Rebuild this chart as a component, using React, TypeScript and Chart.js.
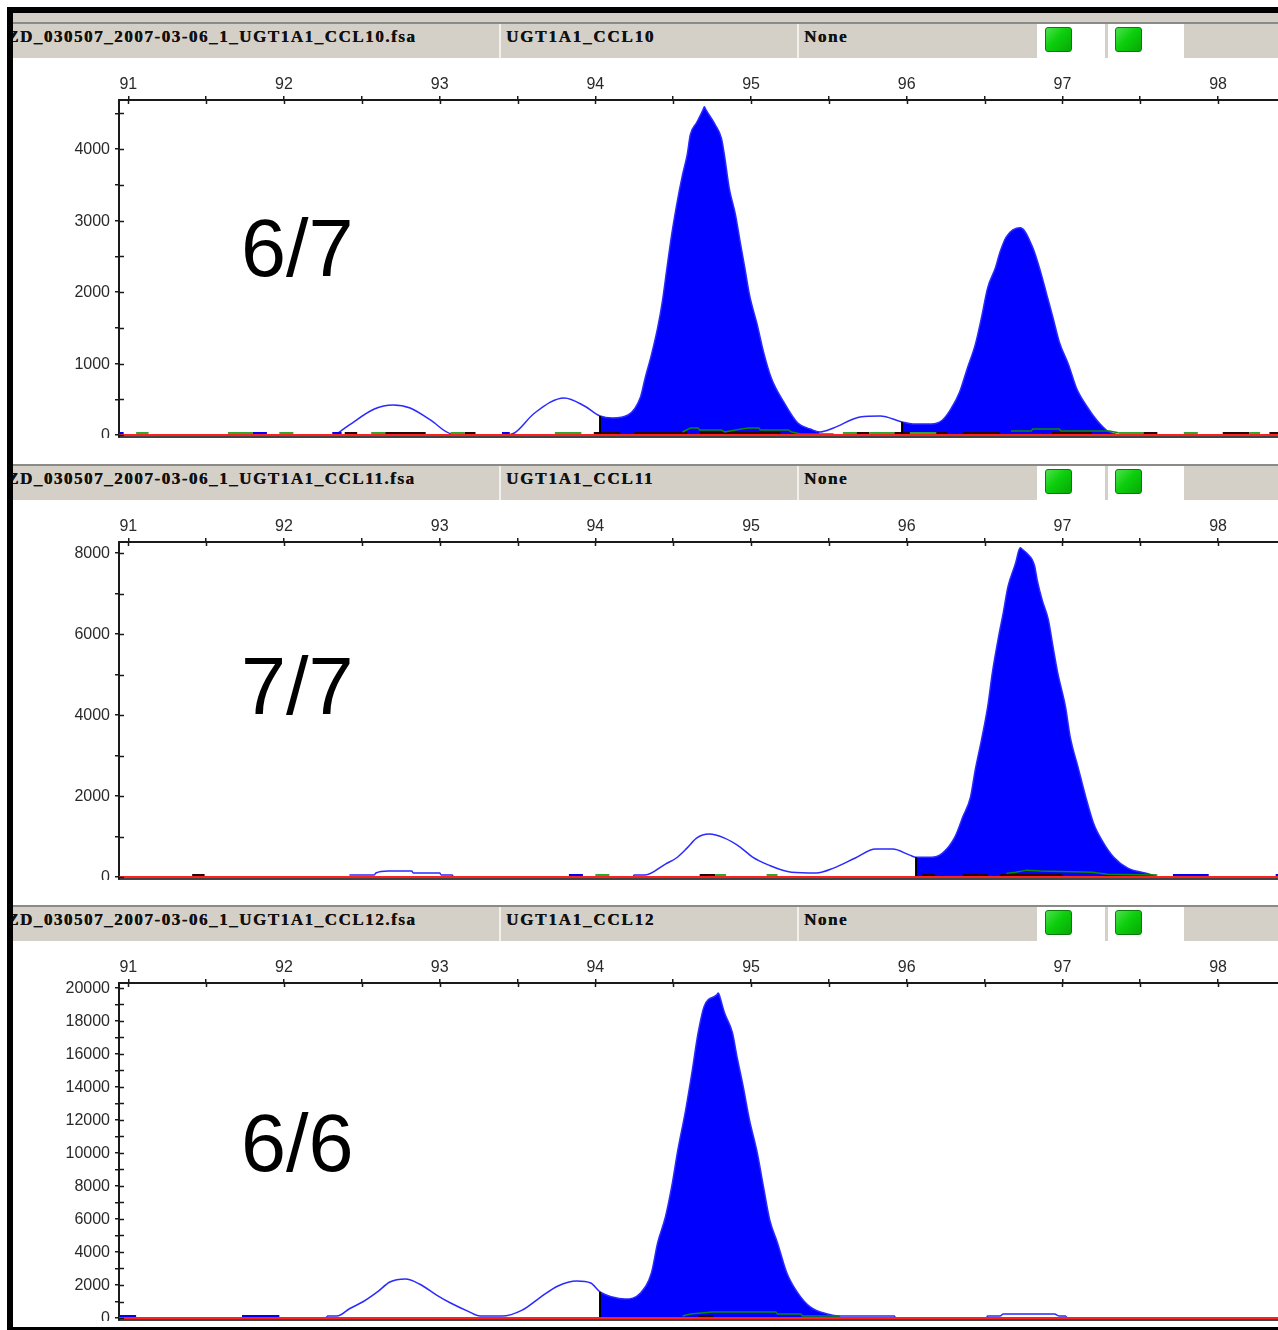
import React, { useEffect, useRef } from "react";
import { Chart, registerables } from "chart.js";

Chart.register(...registerables);

const sizeTicks = [91, 91.5, 92, 92.5, 93, 93.5, 94, 94.5, 95, 95.5, 96, 96.5, 97, 97.5, 98];
const sizeMin = 90.94;
const sizeMax = 98.385;

type Seg = [number, number];

// ---------- Panel 1: 6/7 ----------
const p1Ticks = [0, 500, 1000, 1500, 2000, 2500, 3000, 3500, 4000, 4500];
const p1Labels = [0, 1000, 2000, 3000, 4000];
const p1Range = [-28, 4686];
const p1X = [92.33, 92.42, 92.58, 92.70, 92.81, 92.94, 93.08, 93.42, 93.48, 93.61, 93.80, 93.93, 94.03, 94.11, 94.21, 94.29, 94.32, 94.36, 94.40, 94.43, 94.46, 94.49, 94.52, 94.56, 94.59, 94.61, 94.65, 94.69, 94.70, 94.71, 94.77, 94.81, 94.83, 94.86, 94.90, 94.93, 94.96, 94.99, 95.04, 95.08, 95.13, 95.21, 95.30, 95.38, 95.44, 95.53, 95.70, 95.83, 95.97, 96.04, 96.16, 96.23, 96.28, 96.34, 96.39, 96.44, 96.48, 96.52, 96.57, 96.60, 96.64, 96.73, 96.81, 96.86, 96.90, 96.94, 96.98, 97.04, 97.09, 97.16, 97.22, 97.29, 97.36];
const p1Y = [0, 140, 364, 420, 378, 210, 14, 0, 28, 308, 518, 406, 266, 238, 280, 532, 798, 1120, 1498, 1862, 2338, 2800, 3192, 3640, 3920, 4200, 4368, 4540, 4592, 4550, 4340, 4150, 3900, 3450, 3080, 2702, 2338, 1960, 1540, 1162, 798, 462, 168, 84, 42, 98, 252, 266, 182, 154, 154, 210, 350, 602, 938, 1260, 1638, 2058, 2338, 2562, 2772, 2898, 2618, 2282, 1960, 1638, 1302, 980, 658, 392, 210, 56, 0];
const p1Fill: Seg[] = [[94.03, 95.44], [95.97, 97.36]];
const p1Level = 28;
const p1Blue: Seg[] = [[90.94, 90.97], [91.80, 91.89], [92.31, 92.37], [93.40, 93.45]];
const p1Green: Seg[] = [[91.05, 91.13], [91.64, 91.80], [91.97, 92.06], [92.56, 92.65], [93.07, 93.16], [93.74, 93.91], [95.59, 95.68], [95.76, 95.92], [96.02, 96.19], [97.36, 97.52], [97.78, 97.87], [98.20, 98.27]];
const p1Black: Seg[] = [[92.39, 92.47], [92.65, 92.91], [93.16, 93.23], [93.99, 94.16], [94.25, 94.59], [94.67, 95.19], [95.67, 95.76], [95.92, 96.02], [96.19, 96.26], [96.36, 96.60], [96.93, 97.19], [97.52, 97.61], [98.03, 98.20], [98.33, 98.385]];
const p1LowX = [94.56, 94.61, 94.66, 94.67, 94.81, 94.83, 94.90, 94.98, 95.05, 95.06, 95.24, 95.26, 95.32, 95.53, null, 96.67, 96.80, 96.81, 96.98, 96.99, 97.30, 97.36];
const p1LowY = [42, 98, 98, 70, 70, 42, 70, 98, 98, 70, 70, 42, 14, 14, null, 56, 56, 84, 84, 56, 56, 30];

// ---------- Panel 2: 7/7 ----------
const p2Ticks = [0, 1000, 2000, 3000, 4000, 5000, 6000, 7000, 8000];
const p2Labels = [0, 2000, 4000, 6000, 8000];
const p2Range = [-49, 8272];
const p2X = [92.42, 92.58, 92.59, 92.67, 92.82, 92.83, 93.00, 93.01, 93.08, 93.09, 94.24, 94.25, 94.32, 94.45, 94.52, 94.59, 94.65, 94.73, 94.83, 94.93, 95.01, 95.11, 95.26, 95.42, 95.53, 95.67, 95.80, 95.91, 96.02, 96.06, 96.16, 96.23, 96.31, 96.36, 96.41, 96.44, 96.48, 96.52, 96.55, 96.59, 96.62, 96.65, 96.70, 96.72, 96.73, 96.74, 96.77, 96.82, 96.84, 96.87, 96.91, 96.94, 96.97, 97.02, 97.05, 97.10, 97.15, 97.20, 97.26, 97.33, 97.42, 97.53, 97.60];
const p2Y = [50, 50, 100, 150, 150, 100, 100, 50, 50, 0, 0, 50, 50, 320, 470, 720, 960, 1060, 960, 740, 490, 300, 120, 100, 220, 470, 690, 690, 540, 490, 490, 590, 990, 1480, 1980, 2640, 3380, 4200, 5040, 5930, 6520, 7160, 7760, 8060, 8130, 8100, 8000, 7700, 7300, 6840, 6350, 5680, 5040, 4200, 3460, 2720, 1980, 1330, 870, 490, 220, 100, 30];
const p2Fill: Seg[] = [[96.06, 97.60]];
const p2Level = 50;
const p2Blue: Seg[] = [[93.83, 93.92], [97.71, 97.94], [98.37, 98.385]];
const p2Green: Seg[] = [[94.00, 94.09], [94.77, 94.84], [95.10, 95.17]];
const p2Black: Seg[] = [[91.41, 91.49], [94.67, 94.77], [96.10, 96.18], [96.36, 96.52], [96.60, 97.00]];
const p2LowX = [96.64, 96.70, 96.77, 96.86, 97.19, 97.29, 97.61];
const p2LowY = [90, 120, 170, 150, 120, 70, 50];

// ---------- Panel 3: 6/6 ----------
const p3Ticks = [0, 1000, 2000, 3000, 4000, 5000, 6000, 7000, 8000, 9000, 10000, 11000, 12000, 13000, 14000, 15000, 16000, 17000, 18000, 19000, 20000];
const p3Labels = [0, 2000, 4000, 6000, 8000, 10000, 12000, 14000, 16000, 18000, 20000];
const p3Range = [-121, 20300];
const p3X = [92.27, 92.28, 92.34, 92.42, 92.51, 92.60, 92.68, 92.78, 92.87, 92.98, 93.07, 93.18, 93.26, 93.40, 93.53, 93.64, 93.76, 93.88, 93.97, 94.03, 94.11, 94.19, 94.29, 94.36, 94.40, 94.45, 94.49, 94.53, 94.58, 94.62, 94.66, 94.70, 94.78, 94.79, 94.80, 94.83, 94.88, 94.91, 94.95, 94.99, 95.04, 95.08, 95.12, 95.17, 95.23, 95.30, 95.38, 95.49, 95.57, 95.92, 95.93, 96.51, 96.52, 96.60, 96.62, 96.95, 96.98, 97.02, 97.03];
const p3Y = [0, 120, 120, 560, 1000, 1580, 2180, 2360, 2060, 1390, 910, 420, 120, 120, 480, 1210, 1940, 2240, 2120, 1580, 1270, 1150, 1520, 2730, 4550, 6120, 7940, 10180, 12600, 14850, 17270, 18910, 19580, 19700, 19450, 18480, 17300, 15820, 14000, 12000, 10000, 7940, 5940, 4550, 2730, 1520, 670, 240, 120, 120, 0, 0, 120, 120, 240, 240, 120, 120, 0];
const p3Fill: Seg[] = [[94.03, 95.57]];
const p3Level = 120;
const p3Blue: Seg[] = [[90.94, 91.05], [91.73, 91.97]];
const p3Green: Seg[] = [];
const p3Black: Seg[] = [[94.66, 94.76]];
const p3LowX = [94.56, 94.61, 94.75, 95.16, 95.17, 95.32, 95.33, 95.57];
const p3LowY = [120, 240, 360, 360, 240, 240, 120, 120];

const panels = [
  { top: 22, file: "ZD_030507_2007-03-06_1_UGT1A1_CCL10.fsa", sample: "UGT1A1_CCL10", note: "None", big: "6/7", bigTop: 202, x: p1X, y: p1Y, fill: p1Fill, range: p1Range, ticks: p1Ticks, labels: p1Labels, level: p1Level, blue: p1Blue, green: p1Green, black: p1Black, lowX: p1LowX, lowY: p1LowY },
  { top: 464, file: "ZD_030507_2007-03-06_1_UGT1A1_CCL11.fsa", sample: "UGT1A1_CCL11", note: "None", big: "7/7", bigTop: 640, x: p2X, y: p2Y, fill: p2Fill, range: p2Range, ticks: p2Ticks, labels: p2Labels, level: p2Level, blue: p2Blue, green: p2Green, black: p2Black, lowX: p2LowX, lowY: p2LowY },
  { top: 905, file: "ZD_030507_2007-03-06_1_UGT1A1_CCL12.fsa", sample: "UGT1A1_CCL12", note: "None", big: "6/6", bigTop: 1097, x: p3X, y: p3Y, fill: p3Fill, range: p3Range, ticks: p3Ticks, labels: p3Labels, level: p3Level, blue: p3Blue, green: p3Green, black: p3Black, lowX: p3LowX, lowY: p3LowY },
];

type PanelData = (typeof panels)[number];

const BLUE = "#0000ff";
const OUTLINE = "#2a2aff";
const GREEN = "#0a8a0a";
const LIGHT_GREEN = "#2fa82f";
const DARK = "#2a0505";
const RED = "#ff2020";
const AXIS = "#1a1a1a";
const LABEL = "#2a2a2a";
const HEADER = "#d4d0c8";
const SANS = "'Liberation Sans', Arial, sans-serif";

const zip = (xs: (number | null)[], ys: (number | null)[]) =>
  xs.map((x, i) => ({ x: x === null ? NaN : x, y: ys[i] }));

const segments = (segs: Seg[], level: number) =>
  segs.flatMap(([a, b]) => [{ x: a, y: level }, { x: b, y: level }, { x: b, y: null }]);

const within = (p: PanelData, [a, b]: Seg) =>
  zip(p.x, p.y).filter((d) => d.x >= a && d.x <= b);

const crossTicks = {
  id: "crossTicks",
  afterDatasetsDraw(chart: any) {
    const { ctx, chartArea, scales } = chart;
    ctx.save();
    ctx.strokeStyle = AXIS;
    ctx.lineWidth = 1.5;
    ctx.beginPath();
    scales.x.ticks.forEach((t: any) => {
      const px = Math.round(scales.x.getPixelForValue(t.value)) + 0.5;
      ctx.moveTo(px, chartArea.top);
      ctx.lineTo(px, chartArea.top + 4);
    });
    scales.y.ticks.forEach((t: any) => {
      const py = Math.round(scales.y.getPixelForValue(t.value)) + 0.5;
      ctx.moveTo(chartArea.left, py);
      ctx.lineTo(chartArea.left + 5, py);
    });
    ctx.stroke();
    ctx.restore();
  },
};

function Trace({ p }: { p: PanelData }) {
  const ref = useRef<HTMLCanvasElement>(null);
  useEffect(() => {
    if (!ref.current) return;
    const line = (label: string, data: any[], color: string, width: number, order: number, extra: any = {}) => ({
      label, data, borderColor: color, backgroundColor: color, borderWidth: width, order,
      pointRadius: 0, tension: 0, fill: false, spanGaps: false, ...extra,
    });
    const starts = p.fill.map(([a]) => {
      const i = p.x.indexOf(a);
      return line("start", [{ x: a, y: 0 }, { x: a, y: p.y[i] }], "#000000", 2, 3);
    });
    const smooth = { cubicInterpolationMode: "monotone" };
    const chart = new Chart(ref.current, {
      type: "line",
      data: {
        datasets: [
          ...p.fill.map((r) => line("peak", within(p, r), BLUE, 0, 7, { fill: "origin", backgroundColor: BLUE, ...smooth })),
          line("trace", zip(p.x, p.y), OUTLINE, 1.5, 6, smooth),
          ...starts,
          line("black", segments(p.black, p.level), DARK, 2, 5),
          line("blue", segments(p.blue, p.level), BLUE, 2, 4),
          line("green", segments(p.green, p.level), LIGHT_GREEN, 2, 4),
          line("low", zip(p.lowX, p.lowY), GREEN, 1.5, 2),
          line("red", [{ x: sizeMin, y: 0 }, { x: sizeMax, y: 0 }], RED, 2, 1),
        ] as any,
      },
      options: {
        animation: false,
        responsive: false,
        parsing: false as any,
        normalized: false,
        layout: { padding: { left: 0, right: 0, top: 0, bottom: 0 } },
        plugins: { legend: { display: false }, tooltip: { enabled: false } },
        scales: {
          x: {
            type: "linear", position: "top", min: sizeMin, max: sizeMax,
            afterBuildTicks: (s: any) => { s.ticks = sizeTicks.map((value) => ({ value })); },
            afterFit: (s: any) => { s.height = 40; s.paddingLeft = 0; s.paddingRight = 0; },
            grid: { drawOnChartArea: false, tickLength: 4, color: AXIS, lineWidth: 1.5 },
            border: { color: AXIS, width: 2 },
            ticks: {
              autoSkip: false, maxRotation: 0, padding: 2, color: LABEL,
              font: { family: SANS, size: 16 },
              callback: (v: any) => (Number.isInteger(v) ? String(v) : ""),
            },
          },
          x2: {
            type: "linear", position: "bottom", min: sizeMin, max: sizeMax,
            afterFit: (s: any) => { s.height = 1; s.paddingLeft = 0; s.paddingRight = 0; },
            grid: { drawOnChartArea: false, drawTicks: false },
            border: { color: "#444444", width: 2 },
            ticks: { display: false },
          },
          y: {
            type: "linear", position: "left", min: p.range[0], max: p.range[1],
            afterBuildTicks: (s: any) => { s.ticks = p.ticks.map((value) => ({ value })); },
            afterFit: (s: any) => { s.width = 119; s.paddingTop = 0; s.paddingBottom = 0; },
            grid: { drawOnChartArea: false, tickLength: 4, color: AXIS, lineWidth: 1.5 },
            border: { color: AXIS, width: 2 },
            ticks: {
              autoSkip: false, padding: 5, labelOffset: 1, color: LABEL,
              font: { family: SANS, size: 16 },
              callback: (v: any) => (p.labels.includes(v) ? String(v) : ""),
            },
          },
        },
      } as any,
      plugins: [crossTicks],
    });
    return () => chart.destroy();
  }, [p]);
  return (
    <canvas
      ref={ref}
      width={1278}
      height={378}
      style={{ position: "absolute", left: 0, top: p.top + 38, width: 1278, height: 378, filter: "blur(0.3px)" }}
    />
  );
}

const hdrText: React.CSSProperties = {
  position: "absolute", top: 3, fontFamily: "'Liberation Serif', serif", fontWeight: 700,
  fontSize: 17, letterSpacing: 1.55, color: "#111", whiteSpace: "pre", lineHeight: "20px",
  textShadow: "0.4px 0 0 #111",
};

function Lamp({ left }: { left: number }) {
  return (
    <div style={{
      position: "absolute", left, top: 3, width: 27, height: 25, boxSizing: "border-box", borderRadius: 3,
      border: "1.5px solid #0a7a0a",
      background: "linear-gradient(135deg,#4fe04f 0%,#0ccf0c 45%,#08a808 100%)",
    }} />
  );
}

function Header({ p }: { p: PanelData }) {
  return (
    <div style={{ position: "absolute", left: 13, top: p.top, width: 1265, height: 36, background: HEADER, overflow: "hidden", borderTop: "2px solid #8a8a86", boxSizing: "border-box" }}>
      <div style={{ ...hdrText, left: -6 }}>{p.file}</div>
      <div style={{ position: "absolute", left: 486, top: 0, width: 2, height: 36, background: "#f2f0ea" }} />
      <div style={{ ...hdrText, left: 493, letterSpacing: 1.8 }}>{p.sample}</div>
      <div style={{ position: "absolute", left: 784, top: 0, width: 2, height: 36, background: "#f2f0ea" }} />
      <div style={{ ...hdrText, left: 791 }}>{p.note}</div>
      <div style={{ position: "absolute", left: 1024, top: 0, width: 68, height: 36, background: "#fff" }}><Lamp left={8} /></div>
      <div style={{ position: "absolute", left: 1095, top: 0, width: 76, height: 36, background: "#fff" }}><Lamp left={7} /></div>
    </div>
  );
}

export default function App() {
  return (
    <div style={{ position: "absolute", left: 0, top: 0, width: 1278, height: 1330, overflow: "hidden", background: "#fff" }}>
      <div style={{ position: "absolute", left: 13, top: 13, width: 1265, height: 9, background: HEADER }} />
      {panels.map((p) => (
        <React.Fragment key={p.top}>
          <Trace p={p} />
          <Header p={p} />
          <div style={{ position: "absolute", left: 241, top: p.bigTop, fontFamily: SANS, fontSize: 81, lineHeight: "92px", color: "#000" }}>{p.big}</div>
        </React.Fragment>
      ))}
      <div style={{ position: "absolute", left: 7, top: 7, width: 1271, height: 6, background: "#000" }} />
      <div style={{ position: "absolute", left: 7, top: 7, width: 6, height: 1323, background: "#000" }} />
      <div style={{ position: "absolute", left: 7, top: 1327, width: 1271, height: 3, background: "#000" }} />
    </div>
  );
}
